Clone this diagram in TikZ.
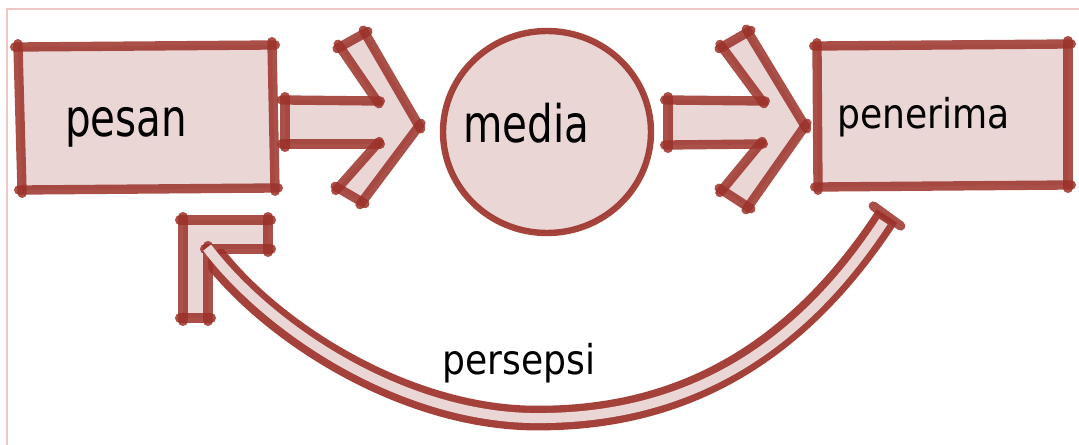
\documentclass[tikz,border=0pt]{standalone}
\usepackage{fontspec}
\setmainfont{DejaVu Sans}[FakeStretch=0.88]
\newfontfamily\narrowsans{DejaVu Sans}[FakeStretch=0.78]
\definecolor{ink}{HTML}{9B3129}
\definecolor{blush}{HTML}{EBD6D6}
\definecolor{framecol}{HTML}{F0C6C6}
\tikzset{
  edge/.style={draw=ink, draw opacity=0.85, line cap=round, line join=round,
               line width=7pt, shorten <=-2.5pt, shorten >=-2.5pt},
  thinedge/.style={draw=ink, draw opacity=0.9, line width=4.8pt},
  word/.style={inner sep=0pt, anchor=base west},
  bigword/.style={word, font=\narrowsans\fontsize{38.9pt}{44pt}\selectfont},
  smallword/.style={word, font=\fontsize{30.8pt}{36pt}\selectfont},
}
% sketchy outline: every edge is its own stroke, so the corners overlap
\def\skl(#1)(#2){\draw[edge] (#1) -- (#2);}
\begin{document}
\begin{tikzpicture}[x=0.75pt,y=-0.75pt]
\useasboundingbox (0,0) rectangle (1079,445);

% thin page frame
\draw[framecol, line width=1.5pt] (7,460) -- (7,9) -- (1090,9);

% ---- sender box
\coordinate (p1) at (18,47);  \coordinate (p2) at (272,45);
\coordinate (p3) at (275,188); \coordinate (p4) at (22,190);
\fill[blush] (p1) -- (p2) -- (p3) -- (p4) -- cycle;
\skl(p1)(p2) \skl(p2)(p3) \skl(p3)(p4) \skl(p4)(p1)
\node[bigword] (pesan) at (65,137) {pesan};

% ---- block arrow 1
\fill[blush] (285,100) -- (377,101) -- (340,47) -- (365,33) -- (419,126)
  -- (362,202) -- (338,188) -- (377,144) -- (285,144) -- cycle;
\skl(285,100)(377,101) \skl(377,101)(340,47) \skl(340,47)(365,33)
\skl(365,33)(419,126) \skl(419,126)(362,202) \skl(362,202)(338,188)
\skl(338,188)(377,144) \skl(377,144)(285,144) \skl(285,144)(285,100)

% ---- media circle
\draw[thinedge, fill=blush] (547,132) ellipse [x radius=78pt, y radius=75.75pt];
\node[bigword] (media) at (463,143) {media};

% ---- block arrow 2
\fill[blush] (668,100) -- (762,101) -- (722,47) -- (748,32) -- (805,126)
  -- (748,207) -- (722,190) -- (760,144) -- (668,145) -- cycle;
\skl(668,100)(762,101) \skl(762,101)(722,47) \skl(722,47)(748,32)
\skl(748,32)(805,126) \skl(805,126)(748,207) \skl(748,207)(722,190)
\skl(722,190)(760,144) \skl(760,144)(668,145) \skl(668,145)(668,100)

% ---- receiver box
\coordinate (r1) at (817,46);  \coordinate (r2) at (1068,44);
\coordinate (r3) at (1068,185); \coordinate (r4) at (818,187);
\fill[blush] (r1) -- (r2) -- (r3) -- (r4) -- cycle;
\skl(r1)(r2) \skl(r2)(r3) \skl(r3)(r4) \skl(r4)(r1)
\node[smallword] (penerima) at (837,129) {penerima};

% ---- feedback band from receiver back to sender
\coordinate (fbStart) at (887,216);
\coordinate (fbLow) at (530,418);
\coordinate (fbEnd) at (212,254);
\draw[ink, line width=18.5pt, draw opacity=0.92]
  (fbStart) .. controls (780,380) and (650,420) .. (fbLow)
  .. controls (400,415) and (270,330) .. (fbEnd);

% corner arrow head
\fill[blush] (183,220) -- (268,220) -- (268,249) -- (208,249) -- (208,318)
  -- (183,318) -- cycle;
\skl(183,220)(268,220) \skl(268,220)(268,249) \skl(268,249)(208,249)
\skl(208,249)(208,318) \skl(208,318)(183,318) \skl(183,318)(183,220)

% light core of the band, open into the head
\draw[blush, line width=7.5pt, shorten <=5pt, shorten >=-6pt]
  (fbStart) .. controls (780,380) and (650,420) .. (fbLow)
  .. controls (400,415) and (270,330) .. (fbEnd);
\skl(876,208)(898,224)

\node[smallword] (persepsi) at (442,375) {persepsi};
\end{tikzpicture}
\end{document}
